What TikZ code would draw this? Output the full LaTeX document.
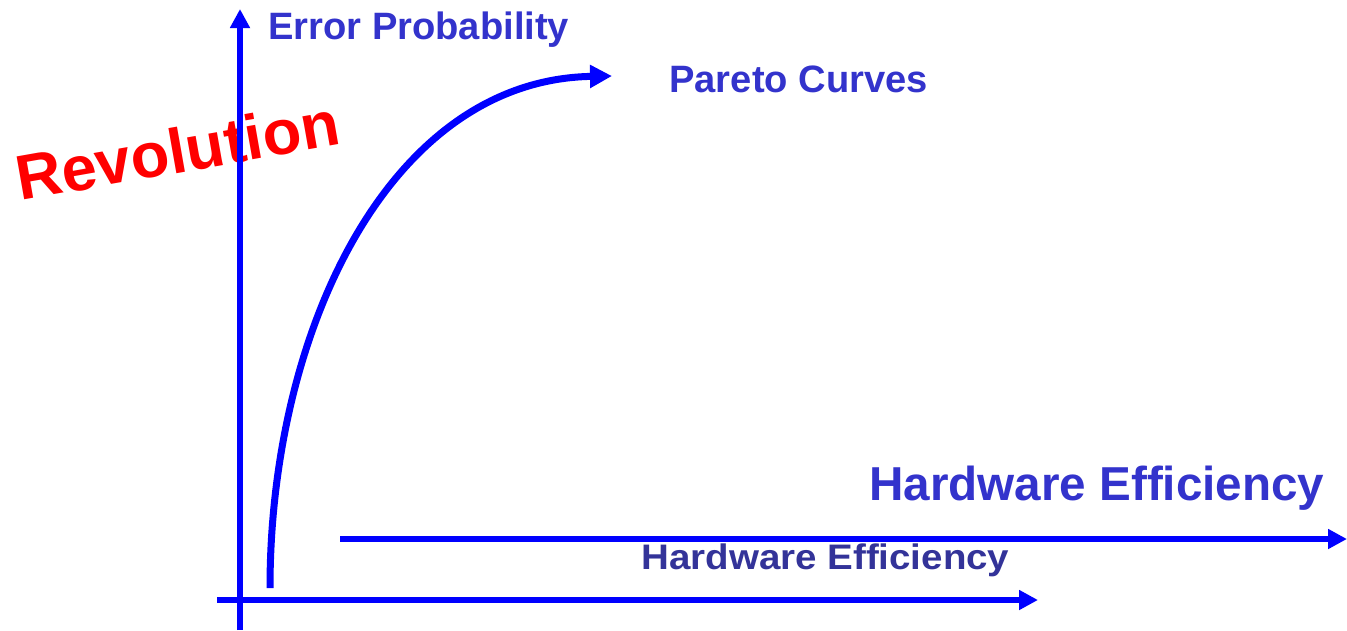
\documentclass[tikz,border=0pt]{standalone}
\usepackage{fontspec}
\setmainfont{Liberation Sans}
\usetikzlibrary{arrows.meta}

\definecolor{axisblue}{HTML}{0000FF}
\definecolor{labelblue}{HTML}{3333CC}
\definecolor{darklabel}{HTML}{333399}
\definecolor{revred}{HTML}{FF0000}

\begin{document}
\begin{tikzpicture}[
		x=0.02cm, y=-0.02cm,
		label/.style={inner sep=0pt, text=labelblue, font=\fontsize{21.7pt}{24pt}\selectfont\bfseries},
		axis/.style={draw=axisblue, line width=0.12cm, -{Triangle[length=0.38cm, width=0.38cm]}},
		pareto/.style={draw=axisblue, line width=0.14cm, -{Triangle[length=0.44cm, width=0.44cm]}}
		]
		\useasboundingbox (0,0) rectangle (1347,630);

		% labels
		\node[inner sep=0pt, anchor=base west, rotate=10, text=revred, font=\fontsize{36pt}{40pt}\selectfont\bfseries] (rev) at (20,201) {Revolution};
		\node[label, anchor=base west] (errp) at (268,39) {Error Probability};
		\node[label, anchor=base west] (pcurves) at (669,92) {Pareto Curves};
		\node[label, anchor=base west, font=\fontsize{27.1pt}{30pt}\selectfont\bfseries] (hweff) at (869,500) {Hardware Efficiency};
		\node[label, anchor=base west, text=darklabel, xscale=1.01, yscale=0.93] (hwefflow) at (641,569) {Hardware Efficiency};

		% axes
		\coordinate (yfoot) at (240,630);
		\coordinate (ytip) at (240,9);
		\coordinate (xfoot) at (217,600);
		\coordinate (xtip) at (1038,600);
		\coordinate (hfoot) at (340,539);
		\coordinate (htip) at (1347,539);
		\draw[axis] (yfoot) -- (ytip);
		\draw[axis] (xfoot) -- (xtip);
		\draw[axis] (hfoot) -- (htip);

		% pareto curve
		\coordinate (cstart) at (270,588);
		\coordinate (cend) at (612,76);
		\draw[pareto] (cstart) .. controls (270,330) and (390,80) .. (cend);
	\end{tikzpicture}
\end{document}
